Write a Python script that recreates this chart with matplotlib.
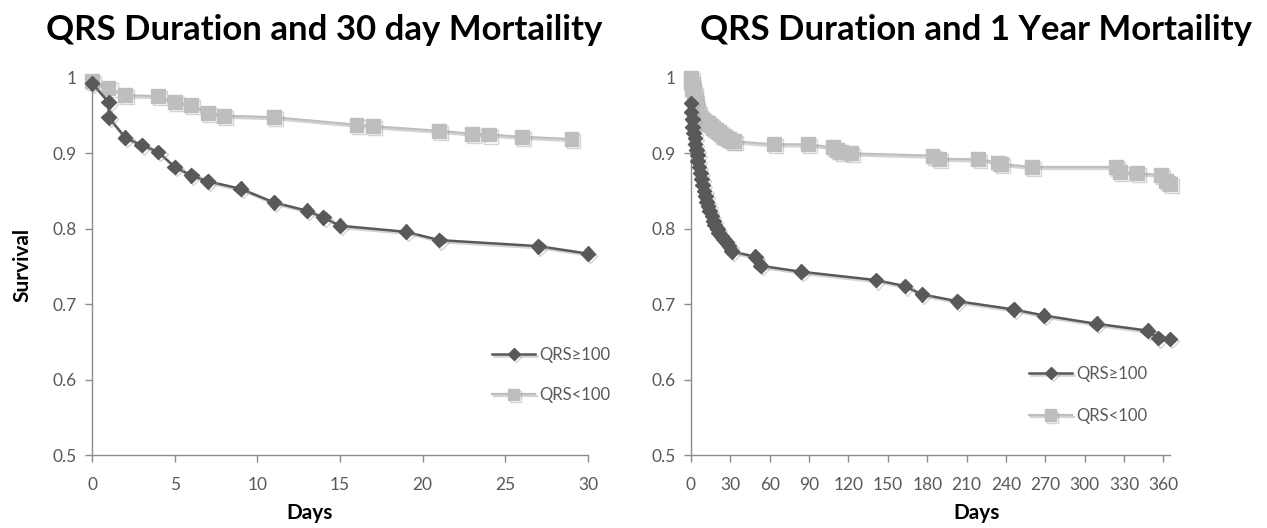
import matplotlib
matplotlib.use("Agg")
import matplotlib.pyplot as plt
import matplotlib.patheffects as pe

plt.rcParams['font.family'] = ['Lato', 'DejaVu Sans']

# ---- Data: 30 day panel ----
d30_hi_days = [0, 1, 1, 2, 3, 4, 5, 6, 7, 9, 11, 13, 14, 15, 19, 21, 27, 30]
d30_hi_surv = [0.993, 0.968, 0.948, 0.921, 0.911, 0.902, 0.882, 0.871, 0.863, 0.853,
               0.835, 0.824, 0.815, 0.804, 0.796, 0.785, 0.777, 0.767]
d30_lo_days = [0, 1, 2, 4, 5, 6, 7, 8, 11, 16, 17, 21, 23, 24, 26, 29]
d30_lo_surv = [0.996, 0.987, 0.977, 0.976, 0.968, 0.964, 0.954, 0.950, 0.948, 0.938,
               0.936, 0.930, 0.926, 0.925, 0.922, 0.919]

# ---- Data: 1 year panel ----
y1_hi_days = [0, 0, 1, 1, 2, 3, 3, 4, 5, 5, 6, 7, 8, 9, 10, 11, 12, 13, 14, 16, 17, 18,
              20, 21, 23, 25, 27, 29, 31, 49, 53, 84, 141, 163, 176, 203, 246, 269, 309,
              348, 356, 365]
y1_hi_surv = [0.967, 0.955, 0.945, 0.935, 0.927, 0.920, 0.912, 0.905, 0.898, 0.890,
              0.882, 0.874, 0.866, 0.858, 0.850, 0.843, 0.836, 0.830, 0.824, 0.817,
              0.810, 0.805, 0.800, 0.795, 0.790, 0.786, 0.782, 0.777, 0.770, 0.763,
              0.751, 0.743, 0.732, 0.724, 0.713, 0.704, 0.693, 0.685, 0.674, 0.665,
              0.655, 0.654]
y1_lo_days = [0, 0, 1, 1, 2, 2, 3, 3, 4, 5, 6, 7, 9, 11, 13, 15, 17, 19, 21, 23, 25, 27,
              29, 31, 33, 63, 89, 108, 111, 114, 122, 184, 189, 219, 234, 236, 260, 324,
              327, 340, 358, 362, 365]
y1_lo_surv = [1.000, 0.995, 0.990, 0.985, 0.980, 0.975, 0.970, 0.965, 0.960, 0.955,
              0.950, 0.946, 0.944, 0.942, 0.940, 0.937, 0.934, 0.931, 0.928, 0.925,
              0.923, 0.921, 0.919, 0.917, 0.916, 0.912, 0.912, 0.908, 0.905, 0.902,
              0.900, 0.897, 0.893, 0.892, 0.888, 0.886, 0.882, 0.882, 0.875, 0.874,
              0.871, 0.863, 0.860]

label_hi = "QRS≥100"
label_lo = "QRS<100"
titles = ["QRS Duration and 30 day Mortaility", "QRS Duration and 1 Year Mortaility"]
xticks_30 = [0, 5, 10, 15, 20, 25, 30]
xticks_1y = list(range(0, 361, 30))
yticks = [0.5, 0.6, 0.7, 0.8, 0.9, 1.0]
ytick_labels = ["0.5", "0.6", "0.7", "0.8", "0.9", "1"]

DARK = "#595959"
LIGHT = "#BEBEBE"
AXC = "#8C8C8C"
TXT = "#595959"

W, H = 1267, 528
fig = plt.figure(figsize=(W / 100, H / 100), dpi=100)

def px_axes(x0, x1, ytop, ybot):
    return fig.add_axes([x0 / W, (H - ybot) / H, (x1 - x0) / W, (ybot - ytop) / H])

ax1 = px_axes(92, 588, 78, 455)
ax2 = px_axes(691, 1170, 78, 455)

shadow = [pe.SimpleLineShadow(offset=(1.5, -1.5), shadow_color="#a0a0a0", alpha=0.45),
          pe.Normal()]

def style(ax, xlim, xticks):
    ax.set_xlim(*xlim)
    ax.set_ylim(0.5, 1.0)
    ax.set_xticks(xticks)
    ax.set_yticks(yticks)
    ax.set_yticklabels(ytick_labels)
    for s in ["top", "right"]:
        ax.spines[s].set_visible(False)
    for s in ["left", "bottom"]:
        ax.spines[s].set_color(AXC)
        ax.spines[s].set_linewidth(1.0)
    ax.tick_params(axis="both", direction="out", length=5, width=1.0, color=AXC,
                   labelcolor=TXT, labelsize=12.5)
    ax.tick_params(axis="x", pad=11)
    ax.tick_params(axis="y", pad=6)
    ax.patch.set_alpha(0)

def draw(ax, hd, hs, ld, ls):
    l_lo, = ax.plot(ld, ls, color=LIGHT, lw=1.6, marker="s", ms=10, mec=LIGHT, mfc=LIGHT,
                    label=label_lo, path_effects=shadow, clip_on=False, zorder=3)
    l_hi, = ax.plot(hd, hs, color=DARK, lw=1.8, marker="D", ms=7.5, mec=DARK, mfc=DARK,
                    label=label_hi, path_effects=shadow, clip_on=False, zorder=4)
    return l_hi, l_lo

style(ax1, (0, 30), xticks_30)
style(ax2, (0, 365), xticks_1y)
h1 = draw(ax1, d30_hi_days, d30_hi_surv, d30_lo_days, d30_lo_surv)
h2 = draw(ax2, y1_hi_days, y1_hi_surv, y1_lo_days, y1_lo_surv)

leg1 = ax1.legend(h1, [label_hi, label_lo], frameon=False, loc="upper left",
                  bbox_to_anchor=((492 - 92) / 496, 1 - (347 - 78) / 377),
                  handlelength=2.6, handletextpad=0.25, labelspacing=1.45,
                  borderaxespad=0, borderpad=0, fontsize=12, markerscale=0.8)
leg2 = ax2.legend(h2, [label_hi, label_lo], frameon=False, loc="upper left",
                  bbox_to_anchor=((1029 - 691) / 479, 1 - (366 - 78) / 377),
                  handlelength=2.6, handletextpad=0.25, labelspacing=1.55,
                  borderaxespad=0, borderpad=0, fontsize=12, markerscale=0.8)
for lg in (leg1, leg2):
    for t in lg.get_texts():
        t.set_color(TXT)

fig.text(324 / W, 1 - 30 / H, titles[0], ha="center", va="center", fontsize=25,
         fontweight="bold", color="black")
fig.text(976 / W, 1 - 30 / H, titles[1], ha="center", va="center", fontsize=25,
         fontweight="bold", color="black")
fig.text(310 / W, 1 - 513 / H, "Days", ha="center", va="center", fontsize=15,
         fontweight="bold", color="black")
fig.text(977 / W, 1 - 513 / H, "Days", ha="center", va="center", fontsize=15,
         fontweight="bold", color="black")
fig.text(22 / W, 1 - 265 / H, "Survival", ha="center", va="center", fontsize=15,
         fontweight="bold", color="black", rotation=90)

fig.savefig("out.png", dpi=100)
